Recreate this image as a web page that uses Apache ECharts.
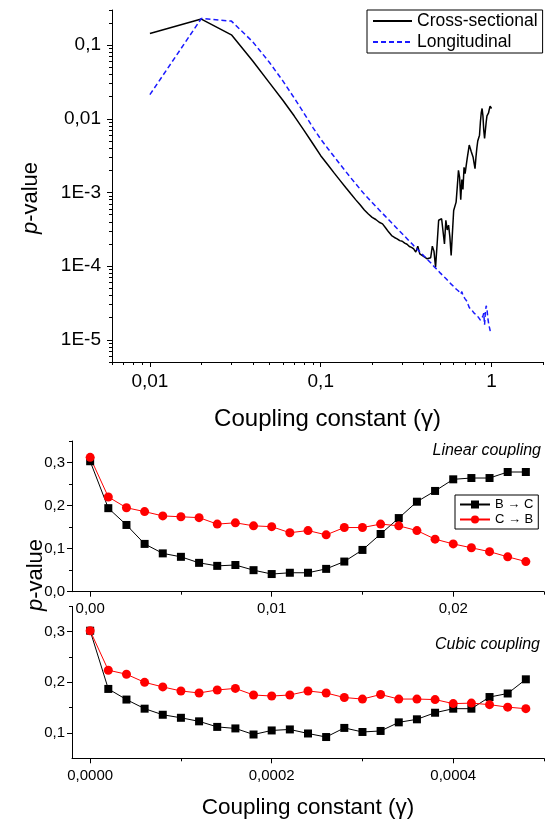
<!DOCTYPE html>
<html><head><meta charset="utf-8">
<script src="https://cdn.jsdelivr.net/npm/echarts@6/dist/echarts.min.js"></script>
<style>html,body{margin:0;padding:0;background:#fff}#c{width:545px;height:823px}</style>
</head><body><div id="c"></div>
<script>
// ---------- Top panel data (log-log) ----------
const gammaTop = [0.01,0.02,0.03,0.04,0.05,0.06,0.07,0.08,0.09,0.10,
  0.11,0.12,0.13,0.14,0.15,0.16,0.17,0.18,0.19,0.20,
  0.21,0.22,0.23,0.24,0.25,0.26,0.27,0.28,0.29,0.30,
  0.31,0.32,0.33,0.34,0.35,0.36,0.37,0.38,0.39,0.40,
  0.41,0.42,0.43,0.44,0.45,0.46,0.47,0.48,0.49,0.50,
  0.51,0.52,0.53,0.54,0.55,0.56,0.57,0.58,0.59,0.60,
  0.61,0.62,0.63,0.64,0.65,0.66,0.67,0.68,0.69,0.70,
  0.71,0.72,0.73,0.74,0.75,0.76,0.77,0.78,0.79,0.80,
  0.81,0.82,0.83,0.84,0.85,0.86,0.87,0.88,0.89,0.90,
  0.91,0.92,0.93,0.94,0.95,0.96,0.97,0.98,0.99,1.00];
const crossSectional = [0.144,0.226,0.138,0.061,0.031,0.0179,0.0109,0.00693,0.00459,0.00316,
  0.00238,0.00183,0.00145,0.00117,0.00096,0.00080,0.00068,0.00058,0.00051,0.00046,
  0.00043,0.000394,0.000375,0.00033,0.00029,0.00026,0.000245,0.000235,0.000222,0.000218,
  0.000205,0.000198,0.000185,0.00018,0.000172,0.000155,0.000187,0.000147,0.00014,0.000136,
  0.00013,0.000126,0.000119,0.00013,0.000187,0.00016,0.000097,0.0002,0.00042,0.00042,
  0.00044,0.00042,0.0002,0.00042,0.00031,0.00036,0.00025,0.00014,0.000135,0.00057,
  0.00054,0.00074,0.0012,0.002,0.0016,0.0008,0.0015,0.0011,0.0022,0.0018,
  0.0023,0.0029,0.0029,0.0044,0.004,0.0036,0.0035,0.003,0.0025,0.0021,
  0.003,0.004,0.005,0.0052,0.006,0.009,0.012,0.0138,0.011,0.007,
  0.0054,0.007,0.009,0.011,0.0112,0.012,0.0135,0.0148,0.014,0.0138];
const longitudinal = [0.0213,0.23,0.212,0.111,0.0586,0.0327,0.0191,0.0118,0.0076,0.0053,
  0.00396,0.00305,0.0024,0.00193,0.00158,0.00132,0.00111,0.00095,0.00083,0.00073,
  0.00065,0.00058,0.00052,0.00047,0.000427,0.000388,0.000354,0.000324,0.000298,0.000275,
  0.000255,0.000236,0.000219,0.000204,0.00019,0.000178,0.000167,0.000157,0.000148,0.000139,
  0.000131,0.000124,0.000117,0.000111,0.000105,0.000099,0.000094,0.00009,0.000085,0.000081,
  0.000078,0.000074,0.000071,0.000068,0.000065,0.000062,0.00006,0.000057,0.000055,0.000053,
  0.000051,0.000049,0.000047,0.000046,0.000044,0.000042,0.000045,0.00004,0.000038,0.000036,
  0.0000345,0.000033,0.00003,0.0000275,0.000027,0.000026,0.000025,0.000024,0.000023,0.0000225,
  0.000022,0.0000215,0.0000205,0.00002,0.000019,0.0000185,0.000018,0.0000175,0.000021,0.000023,
  0.000016,0.000024,0.000029,0.000026,0.00002,0.000017,0.000015,0.0000135,0.0000125,0.000012];

// ---------- Bottom panels ----------
const gammaLinear = [0,0.001,0.002,0.003,0.004,0.005,0.006,0.007,0.008,0.009,0.010,0.011,0.012,
  0.013,0.014,0.015,0.016,0.017,0.018,0.019,0.020,0.021,0.022,0.023,0.024];
const linearBC = [0.303,0.194,0.155,0.111,0.089,0.081,0.067,0.060,0.062,0.050,0.041,0.044,0.044,
  0.053,0.070,0.097,0.134,0.171,0.209,0.234,0.261,0.264,0.264,0.278,0.278];
const linearCB = [0.312,0.220,0.195,0.186,0.176,0.174,0.172,0.157,0.160,0.153,0.151,0.137,0.142,
  0.132,0.149,0.149,0.157,0.153,0.142,0.122,0.111,0.102,0.093,0.081,0.070];
const gammaCubic = [0,0.00002,0.00004,0.00006,0.00008,0.0001,0.00012,0.00014,0.00016,0.00018,
  0.0002,0.00022,0.00024,0.00026,0.00028,0.0003,0.00032,0.00034,0.00036,0.00038,
  0.0004,0.00042,0.00044,0.00046,0.00048];
const cubicBC = [0.302,0.187,0.166,0.148,0.136,0.130,0.123,0.112,0.109,0.097,0.105,0.107,0.099,
  0.092,0.110,0.102,0.104,0.121,0.127,0.140,0.148,0.148,0.171,0.178,0.206];
const cubicCB = [0.302,0.224,0.216,0.200,0.191,0.183,0.179,0.185,0.188,0.175,0.173,0.175,0.183,
  0.179,0.170,0.167,0.176,0.167,0.167,0.166,0.158,0.159,0.156,0.151,0.148];

// ---------- Tick values / labels ----------
const topXTicks = [0.01, 0.1, 1];
const topXTickLabels = ['0,01', '0,1', '1'];
const topYTicks = [1e-5, 1e-4, 1e-3, 0.01, 0.1];
const topYTickLabels = ['1E-5', '1E-4', '1E-3', '0,01', '0,1'];
const linXTicks = [0, 0.01, 0.02];
const linXTickLabels = ['0,00', '0,01', '0,02'];
const linYTicks = [0, 0.1, 0.2, 0.3];
const linYTickLabels = ['0,0', '0,1', '0,2', '0,3'];
const cubXTicks = [0, 0.0002, 0.0004];
const cubXTickLabels = ['0,0000', '0,0002', '0,0004'];
const cubYTicks = [0.1, 0.2, 0.3];
const cubYTickLabels = ['0,1', '0,2', '0,3'];

const FONT = 'Arial, "Liberation Sans", sans-serif';

function logMinors(lo, hi) {
  const out = [];
  for (let e = -6; e <= 1; e++) {
    for (let k = 2; k <= 9; k++) {
      const v = +(k * Math.pow(10, e)).toPrecision(6);
      if (v >= lo * 0.999 && v <= hi * 1.001) out.push(v);
    }
  }
  return out;
}
function labelFor(ticks, labels) {
  return function (v) {
    for (let i = 0; i < ticks.length; i++) {
      if (Math.abs(v - ticks[i]) <= Math.abs(ticks[i]) * 1e-6 + 1e-12) return labels[i];
    }
    return '';
  };
}
function mainAxis(o) {
  return Object.assign({
    axisLine: { show: true, onZero: false, lineStyle: { color: '#000', width: 1 } },
    axisTick: { show: true, inside: false, length: 5, customValues: o.ticks, lineStyle: { color: '#000', width: 1 } },
    axisLabel: { show: true, customValues: o.ticks, formatter: labelFor(o.ticks, o.labels),
      color: '#000', fontFamily: FONT, fontSize: o.fs, margin: o.margin },
    splitLine: { show: false }, minorTick: { show: false }
  }, o.extra);
}
function minorAxis(o) {
  return Object.assign({
    axisLine: { show: false, onZero: false },
    axisTick: { show: true, inside: false, length: 3, customValues: o.ticks, lineStyle: { color: '#000', width: 1 } },
    axisLabel: { show: false },
    splitLine: { show: false }
  }, o.extra);
}

const topXMin = 0.006, topXMax = 2, topYMin = 5e-6, topYMax = 0.3;

const xAxis = [
  mainAxis({ ticks: topXTicks, labels: topXTickLabels, fs: 19, margin: 10, extra: {
    type: 'log', gridIndex: 0, min: topXMin, max: topXMax, position: 'bottom',
    name: 'Coupling constant (\u03b3)', nameLocation: 'middle', nameGap: 45,
    nameTextStyle: { fontFamily: FONT, fontSize: 24, color: '#000' } } }),
  minorAxis({ ticks: logMinors(topXMin, topXMax), extra: { type: 'log', gridIndex: 0, min: topXMin, max: topXMax, position: 'bottom' } }),
  mainAxis({ ticks: linXTicks, labels: linXTickLabels, fs: 15, margin: 10, extra: {
    type: 'value', gridIndex: 1, min: -0.001, max: 0.025, position: 'bottom' } }),
  minorAxis({ ticks: [0.005, 0.015, 0.025], extra: { type: 'value', gridIndex: 1, min: -0.001, max: 0.025, position: 'bottom' } }),
  mainAxis({ ticks: cubXTicks, labels: cubXTickLabels, fs: 15, margin: 10, extra: {
    type: 'value', gridIndex: 2, min: -0.00002, max: 0.0005, position: 'bottom',
    name: 'Coupling constant (\u03b3)', nameLocation: 'middle', nameGap: 38,
    nameTextStyle: { fontFamily: FONT, fontSize: 22.5, color: '#000' } } }),
  minorAxis({ ticks: [0.0001, 0.0003, 0.0005], extra: { type: 'value', gridIndex: 2, min: -0.00002, max: 0.0005, position: 'bottom' } })
];
const yAxis = [
  mainAxis({ ticks: topYTicks, labels: topYTickLabels, fs: 19, margin: 11, extra: {
    type: 'log', gridIndex: 0, min: topYMin, max: topYMax, position: 'left' } }),
  minorAxis({ ticks: logMinors(topYMin, topYMax), extra: { type: 'log', gridIndex: 0, min: topYMin, max: topYMax, position: 'left' } }),
  mainAxis({ ticks: linYTicks, labels: linYTickLabels, fs: 15, margin: 7, extra: {
    type: 'value', gridIndex: 1, min: 0, max: 0.35, position: 'left' } }),
  minorAxis({ ticks: [0.05, 0.15, 0.25, 0.35], extra: { type: 'value', gridIndex: 1, min: 0, max: 0.35, position: 'left' } }),
  mainAxis({ ticks: cubYTicks, labels: cubYTickLabels, fs: 15, margin: 7, extra: {
    type: 'value', gridIndex: 2, min: 0.05, max: 0.35, position: 'left' } }),
  minorAxis({ ticks: [0.15, 0.25, 0.35], extra: { type: 'value', gridIndex: 2, min: 0.05, max: 0.35, position: 'left' } })
];

function pairs(xs, ys) { return xs.map((x, i) => [x, ys[i]]); }

const chart = echarts.init(document.getElementById('c'), null, { renderer: 'canvas' });
chart.setOption({
  animation: false,
  backgroundColor: '#fff',
  textStyle: { fontFamily: FONT },
  grid: [
    { left: 112, top: 10, width: 431, height: 352 },
    { left: 72, top: 441, width: 472, height: 150.7 },
    { left: 72, top: 606.4, width: 472, height: 151.9 }
  ],
  xAxis: xAxis,
  yAxis: yAxis,
  legend: [
    { data: [{ name: 'Cross-sectional', itemStyle: { opacity: 0 } }, { name: 'Longitudinal', itemStyle: { opacity: 0 } }],
      orient: 'vertical', left: 367, top: 10,
      borderColor: '#000', borderWidth: 1, borderRadius: 0, padding: [2, 5, 2, 5], itemGap: 3,
      itemWidth: 39, itemHeight: 14, textStyle: { fontFamily: FONT, fontSize: 17.5, color: '#000' } },
    { data: ['B \u2192 C', 'C \u2192 B'], orient: 'vertical', left: 455, top: 495,
      borderColor: '#000', borderWidth: 1, borderRadius: 0, padding: [3, 5, 3, 4], itemGap: 2,
      itemWidth: 30, itemHeight: 10, textStyle: { fontFamily: FONT, fontSize: 13, color: '#000' } }
  ],
  graphic: [
    { type: 'text', x: 31, y: 198, rotation: Math.PI / 2,
      style: { text: '{i|p}-value', x: 0, y: 0, align: 'center', verticalAlign: 'middle',
        fontFamily: FONT, fontSize: 22, fill: '#000',
        rich: { i: { fontStyle: 'italic', fontFamily: FONT, fontSize: 22, fill: '#000' } } } },
    { type: 'text', x: 36, y: 575, rotation: Math.PI / 2,
      style: { text: '{i|p}-value', x: 0, y: 0, align: 'center', verticalAlign: 'middle',
        fontFamily: FONT, fontSize: 22, fill: '#000',
        rich: { i: { fontStyle: 'italic', fontFamily: FONT, fontSize: 22, fill: '#000' } } } },
    { type: 'text', x: 541, y: 451, style: { text: 'Linear coupling', align: 'right', verticalAlign: 'middle',
        fontFamily: FONT, fontSize: 16, fontStyle: 'italic', fill: '#000' } },
    { type: 'text', x: 540, y: 645, style: { text: 'Cubic coupling', align: 'right', verticalAlign: 'middle',
        fontFamily: FONT, fontSize: 16, fontStyle: 'italic', fill: '#000' } }
  ],
  series: [
    { name: 'Cross-sectional', type: 'line', xAxisIndex: 0, yAxisIndex: 0, data: pairs(gammaTop, crossSectional),
      symbol: 'none', color: '#000', lineStyle: { color: '#000', width: 1.5 } },
    { name: 'Longitudinal', type: 'line', xAxisIndex: 0, yAxisIndex: 0, data: pairs(gammaTop, longitudinal),
      symbol: 'none', color: '#1a1aff', lineStyle: { color: '#1a1aff', width: 1.5, type: [5, 3] } },
    { name: 'B \u2192 C', type: 'line', xAxisIndex: 2, yAxisIndex: 2, data: pairs(gammaLinear, linearBC),
      symbol: 'rect', symbolSize: 8, color: '#000', lineStyle: { color: '#000', width: 1 } },
    { name: 'C \u2192 B', type: 'line', xAxisIndex: 2, yAxisIndex: 2, data: pairs(gammaLinear, linearCB),
      symbol: 'circle', symbolSize: 9, color: '#ff0000', lineStyle: { color: '#ff0000', width: 1 } },
    { name: 'B \u2192 C', type: 'line', xAxisIndex: 4, yAxisIndex: 4, data: pairs(gammaCubic, cubicBC),
      symbol: 'rect', symbolSize: 8, color: '#000', lineStyle: { color: '#000', width: 1 } },
    { name: 'C \u2192 B', type: 'line', xAxisIndex: 4, yAxisIndex: 4, data: pairs(gammaCubic, cubicCB),
      symbol: 'circle', symbolSize: 9, color: '#ff0000', lineStyle: { color: '#ff0000', width: 1 } }
  ]
});
</script></body></html>
